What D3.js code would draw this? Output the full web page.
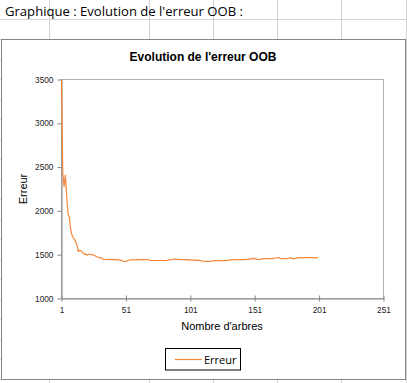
<!DOCTYPE html>
<html>
<head>
<meta charset="utf-8">
<script src="https://cdn.jsdelivr.net/npm/d3@7"></script>
<style>
  html, body { margin: 0; padding: 0; background: #fff; }
  svg { display: block; }
</style>
</head>
<body>
<svg id="chart" width="407" height="383"></svg>
<script>
// ---- data ----
const pageHeading = "Graphique : Evolution de l'erreur OOB :";
const chartTitle = "Evolution de l'erreur OOB";
const xTitle = "Nombre d'arbres";
const yTitle = "Erreur";
const seriesName = "Erreur";
const xTicks = [1, 51, 101, 151, 201, 251];
const yTicks = [1000, 1500, 2000, 2500, 3000, 3500];
const erreur = [
  3500, 2430, 2280, 2410, 2180, 1970, 1930, 1800, 1730, 1700,
  1675, 1645, 1610, 1535, 1550, 1545, 1530, 1520, 1500, 1510,
  1495, 1505, 1505, 1500, 1500, 1495, 1488, 1480, 1473, 1470,
  1462, 1466, 1450, 1445, 1445, 1448, 1445, 1448, 1444, 1447,
  1444, 1446, 1443, 1442, 1443, 1440, 1438, 1432, 1425, 1422,
  1424, 1430, 1437, 1442, 1440, 1445, 1442, 1440, 1444, 1440,
  1446, 1442, 1445, 1441, 1446, 1442, 1445, 1443, 1440, 1436,
  1434, 1434, 1433, 1434, 1434, 1433, 1434, 1434, 1437, 1434,
  1433, 1434, 1436, 1440, 1442, 1444, 1445, 1448, 1453, 1446,
  1447, 1444, 1448, 1445, 1442, 1444, 1444, 1441, 1444, 1442,
  1440, 1438, 1437, 1438, 1436, 1439, 1436, 1435, 1432, 1428,
  1425, 1424, 1423, 1424, 1423, 1424, 1425, 1428, 1432, 1433,
  1432, 1433, 1433, 1432, 1433, 1433, 1432, 1433, 1434, 1436,
  1438, 1440, 1442, 1443, 1443, 1442, 1443, 1443, 1443, 1444,
  1443, 1443, 1444, 1445, 1446, 1447, 1450, 1455, 1456, 1457,
  1456, 1452, 1445, 1444, 1446, 1450, 1455, 1456, 1455, 1455,
  1456, 1455, 1456, 1455, 1456, 1457, 1460, 1465, 1466, 1463,
  1456, 1455, 1456, 1455, 1456, 1455, 1457, 1462, 1466, 1458,
  1455, 1456, 1458, 1464, 1466, 1466, 1467, 1466, 1466, 1467,
  1466, 1466, 1467, 1466, 1466, 1467, 1466, 1466, 1467, 1466
];
const trees = erreur.map((_, i) => i + 1);

// ---- drawing ----
const svg = d3.select("#chart");
const W = 407, H = 383;
const gridColor = "#d4d4d4";

// spreadsheet grid
const rowLines = d3.range(19.5, H, 20);
const colLines = [49.5, 149.5, 213.5, 277.5, 341.5, 406.5];
svg.append("g").selectAll("line.r").data(rowLines).join("line")
  .attr("x1", 0).attr("x2", W).attr("y1", d => d).attr("y2", d => d)
  .attr("stroke", gridColor).attr("stroke-width", 1);
svg.append("g").selectAll("line.c").data(colLines).join("line")
  .attr("x1", d => d).attr("x2", d => d).attr("y1", 0).attr("y2", H)
  .attr("stroke", gridColor).attr("stroke-width", 1);

svg.append("text")
  .attr("x", 5).attr("y", 16)
  .attr("font-family", "'Open Sans', 'Liberation Sans', sans-serif")
  .attr("font-size", 13.5)
  .attr("textLength", 238).attr("lengthAdjust", "spacingAndGlyphs")
  .attr("fill", "#000")
  .text(pageHeading);

// chart area
svg.append("rect")
  .attr("x", 1.5).attr("y", 39.5).attr("width", 404).attr("height", 340)
  .attr("fill", "#fff").attr("stroke", "#868686").attr("stroke-width", 1);

svg.append("text")
  .attr("x", 203).attr("y", 60.5)
  .attr("text-anchor", "middle")
  .attr("font-family", "'Liberation Sans', Arial, sans-serif")
  .attr("font-weight", "bold").attr("font-size", 12)
  .text(chartTitle);

const x = d3.scaleLinear().domain([1, 251]).range([61.5, 383.5]);
const y = d3.scaleLinear().domain([1000, 3500]).range([298.5, 79.5]);

// plot area border
svg.append("rect")
  .attr("x", x(1)).attr("y", y(3500))
  .attr("width", x(251) - x(1)).attr("height", y(1000) - y(3500))
  .attr("fill", "none").attr("stroke", "#b3b3b3").attr("stroke-width", 1);

const tickFont = "'Liberation Sans', Arial, sans-serif";

const yAxis = svg.append("g")
  .attr("transform", `translate(${x(1)},0)`)
  .call(d3.axisLeft(y).tickValues(yTicks).tickSize(4).tickSizeOuter(0).tickPadding(4).tickFormat(d3.format("d")));
yAxis.select(".domain").attr("stroke", "#868686");
yAxis.selectAll(".tick line").attr("stroke", "#868686");
yAxis.selectAll(".tick text").attr("font-family", tickFont).attr("font-size", 8.3).attr("fill", "#222");

const xAxis = svg.append("g")
  .attr("transform", `translate(0,${y(1000)})`)
  .call(d3.axisBottom(x).tickValues(xTicks).tickSize(3).tickSizeOuter(0).tickPadding(6).tickFormat(d3.format("d")));
xAxis.select(".domain").attr("stroke", "#868686");
xAxis.selectAll(".tick line").attr("stroke", "#868686").attr("y1", -3).attr("y2", 3);
xAxis.selectAll(".tick text").attr("font-family", tickFont).attr("font-size", 8.3).attr("fill", "#222");

// series
const line = d3.line().x((d, i) => x(trees[i])).y(d => y(d));
svg.append("path")
  .datum(erreur)
  .attr("d", line)
  .attr("fill", "none")
  .attr("stroke", "#f5863a")
  .attr("stroke-width", 1.2)
  .attr("stroke-linejoin", "round");

// axis titles
svg.append("text")
  .attr("x", 222).attr("y", 330)
  .attr("text-anchor", "middle")
  .attr("font-family", "'Liberation Sans', Arial, sans-serif")
  .attr("font-size", 11)
  .text(xTitle);

svg.append("text")
  .attr("transform", "translate(27,189) rotate(-90)")
  .attr("text-anchor", "middle")
  .attr("font-family", "'Liberation Sans', Arial, sans-serif")
  .attr("font-size", 11)
  .text(yTitle);

// legend
const lg = svg.append("g");
lg.append("rect")
  .attr("x", 165.5).attr("y", 348.5).attr("width", 75).attr("height", 21.5)
  .attr("fill", "#fff").attr("stroke", "#000").attr("stroke-width", 1);
lg.append("line")
  .attr("x1", 175).attr("x2", 202).attr("y1", 359.5).attr("y2", 359.5)
  .attr("stroke", "#f5863a").attr("stroke-width", 1.2);
lg.append("text")
  .attr("x", 204).attr("y", 363.5)
  .attr("font-family", "'Open Sans', 'Liberation Sans', sans-serif")
  .attr("font-size", 11)
  .text(seriesName);
</script>
</body>
</html>
